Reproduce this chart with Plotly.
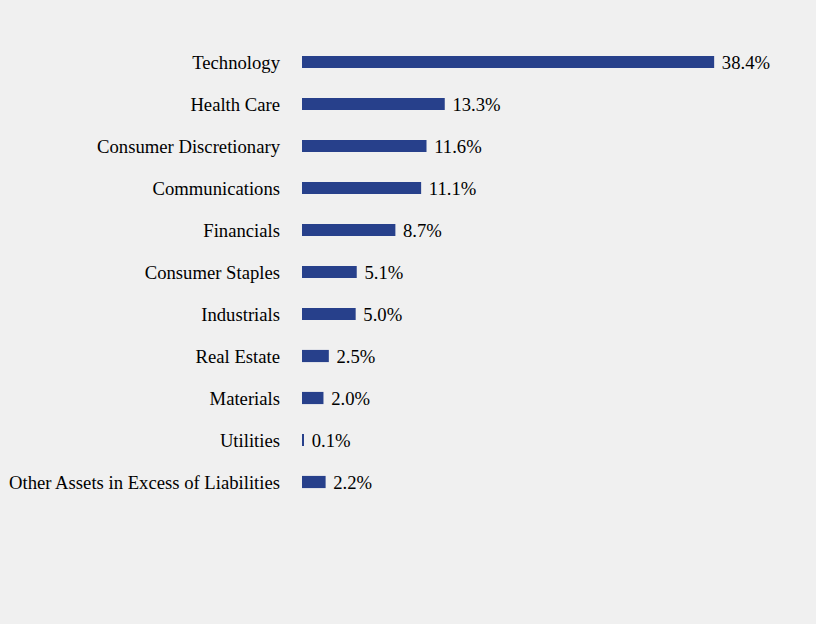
import plotly.graph_objects as go

categories = ["Technology", "Health Care", "Consumer Discretionary", "Communications",
              "Financials", "Consumer Staples", "Industrials", "Real Estate",
              "Materials", "Utilities", "Other Assets in Excess of Liabilities"]
values = [38.4, 13.3, 11.6, 11.1, 8.7, 5.1, 5.0, 2.5, 2.0, 0.1, 2.2]
labels = [f" {v:.1f}%" for v in values]

font = dict(family="Liberation Serif, Times New Roman, serif", size=18.67, color="#000000")

fig = go.Figure(go.Bar(
    x=values, y=categories, orientation="h",
    marker=dict(color="#27408b", line=dict(width=0)),
    width=0.29,
    text=labels, textposition="outside", textfont=font,
    constraintext="none",
    cliponaxis=False,
))

fig.update_layout(
    width=816, height=624,
    paper_bgcolor="#f0f0f0", plot_bgcolor="#f0f0f0",
    margin=dict(l=302, r=31, t=41, b=121),
    showlegend=False,
    font=font,
    xaxis=dict(range=[0, 45], visible=False, showgrid=False, zeroline=False, automargin=False),
    yaxis=dict(autorange="reversed", showgrid=False, zeroline=False, showline=False,
               ticks="", tickfont=font, ticklabelstandoff=21, automargin=False),
)

fig.write_html(
    "out.html",
    config={"displayModeBar": False},
    post_script="document.body.style.margin='0';document.body.style.background='#f0f0f0';",
)
